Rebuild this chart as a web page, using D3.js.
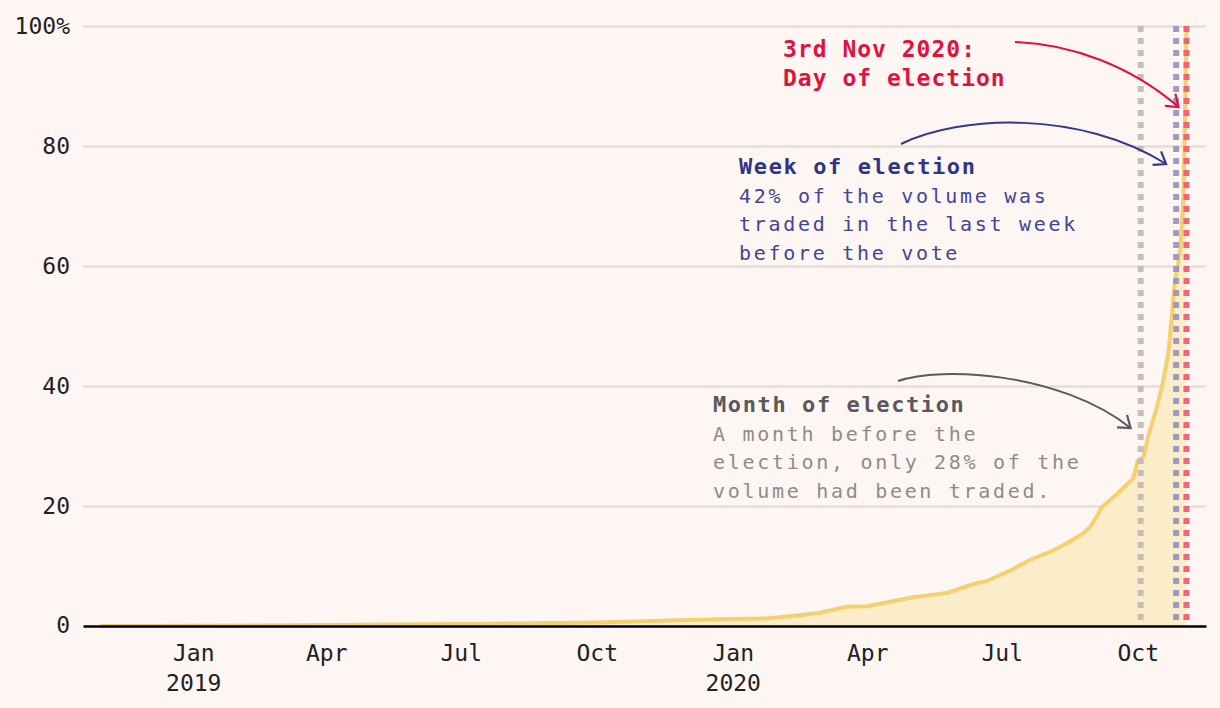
<!DOCTYPE html>
<html>
<head>
<meta charset="utf-8">
<script src="https://cdn.jsdelivr.net/npm/d3@7"></script>
<style>
  html, body { margin: 0; padding: 0; background: #fdf6f3; }
  svg { display: block; }
  text { font-family: "DejaVu Sans Mono", monospace; }
</style>
</head>
<body>
<svg id="chart" width="1220" height="708"></svg>
<script>
// ---- data ----
const dates = [
  "2018-10-30","2018-12-01","2019-01-01","2019-02-15","2019-04-01","2019-05-15",
  "2019-07-01","2019-08-15","2019-10-01","2019-11-01","2019-12-01","2020-01-01",
  "2020-01-24","2020-02-15","2020-02-29","2020-03-18","2020-04-01","2020-05-02",
  "2020-05-25","2020-06-12","2020-06-21","2020-07-09","2020-07-20","2020-08-05",
  "2020-08-14","2020-08-25","2020-08-30","2020-09-04","2020-09-06","2020-09-10",
  "2020-09-17","2020-09-28","2020-10-01","2020-10-05","2020-10-08","2020-10-14",
  "2020-10-18","2020-10-22","2020-10-24","2020-10-26","2020-10-30","2020-11-01",
  "2020-11-02","2020-11-03"
];
const shareTraded = [
  0, 0.02, 0.05, 0.08, 0.15, 0.25,
  0.35, 0.45, 0.6, 0.8, 1.0, 1.15,
  1.25, 1.8, 2.2, 3.2, 3.3, 4.8,
  5.5, 7.0, 7.5, 9.5, 11, 12.6,
  13.8, 15.4, 16.6, 18.5, 19.6, 20.5,
  22, 24.6, 27.5, 28.2, 31.5, 36.5,
  40.5, 46, 51.5, 57, 63, 72,
  85, 100
];
const yTicks = [0, 20, 40, 60, 80, 100];
const yTickLabels = ["0", "20", "40", "60", "80", "100%"];
const xTickDates = ["2019-01-01","2019-04-01","2019-07-01","2019-10-01","2020-01-01","2020-04-01","2020-07-01","2020-10-01"];
const xTickMonths = ["Jan","Apr","Jul","Oct","Jan","Apr","Jul","Oct"];
const xTickYears = ["2019","","","","2020","","",""];
const markerDates = ["2020-10-03", "2020-10-27", "2020-11-03"];
const markerColors = ["#c4bdb6", "#9a97c1", "#ee5f74"];

// ---- layout ----
const svg = d3.select("#chart");
const parse = d3.utcParse("%Y-%m-%d");
const data = dates.map((d, i) => ({ date: parse(d), v: shareTraded[i] }));

const x = d3.scaleUtc()
  .domain([new Date(Date.UTC(2018, 9, 18, 10)), new Date(Date.UTC(2020, 10, 16, 5))])
  .range([83, 1206]);
const y = d3.scaleLinear().domain([0, 100]).range([626, 26]);

// grid + y labels
const yAxis = d3.axisLeft(y).tickValues(yTicks.filter(t => t > 0))
  .tickSize(-(1206 - 83)).tickFormat(d => yTickLabels[yTicks.indexOf(d)]).tickPadding(13);
const gy = svg.append("g").attr("transform", "translate(83,0)").call(yAxis);
gy.select(".domain").remove();
gy.selectAll(".tick line").attr("stroke", "#e2d8d5").attr("stroke-width", 2);
gy.selectAll(".tick text").attr("fill", "#222").attr("font-size", 23)
  .style("font-family", "DejaVu Sans Mono").attr("x", -13);
// zero label
svg.append("text").attr("x", 70).attr("y", y(0)).attr("dy", "0.32em")
  .attr("text-anchor", "end").attr("font-size", 23).attr("fill", "#222")
  .text(yTickLabels[0]);

// area + line
const area = d3.area().x(d => x(d.date)).y0(y(0)).y1(d => y(d.v));
const line = d3.line().x(d => x(d.date)).y(d => y(d.v));
svg.append("path").datum(data).attr("d", area).attr("fill", "#fbecca");
svg.append("path").datum(data).attr("d", line).attr("fill", "none")
  .attr("stroke", "#f5d070").attr("stroke-width", 4).attr("stroke-linejoin", "round");

// dashed markers
markerDates.forEach((d, i) => {
  const xx = x(parse(d));
  svg.append("line").attr("x1", xx).attr("x2", xx).attr("y1", y(100)).attr("y2", y(0))
    .attr("stroke", markerColors[i]).attr("stroke-width", 6)
    .attr("stroke-dasharray", "6,6").attr("opacity", 0.95);
});

// x axis
const xAxis = d3.axisBottom(x).tickValues(xTickDates.map(parse)).tickSize(0).tickFormat("");
const gx = svg.append("g").attr("transform", `translate(0,${y(0)})`).call(xAxis);
gx.select(".domain").attr("stroke", "#000").attr("stroke-width", 2.5);
gx.selectAll(".tick").each(function(d, i) {
  const g = d3.select(this);
  g.append("text").attr("y", 35).attr("text-anchor", "middle").attr("fill", "#222")
    .attr("font-size", 23).text(xTickMonths[i]);
  if (xTickYears[i]) g.append("text").attr("y", 65).attr("text-anchor", "middle")
    .attr("fill", "#222").attr("font-size", 23).text(xTickYears[i]);
});

// ---- annotations ----
const defs = svg.append("defs");
function marker(id, color) {
  defs.append("marker").attr("id", id).attr("markerUnits", "userSpaceOnUse")
    .attr("viewBox", "-14 -10 16 20").attr("refX", 0).attr("refY", 0)
    .attr("markerWidth", 16).attr("markerHeight", 20).attr("orient", "auto")
    .append("path").attr("d", "M-11,-8L0,0L-11,8").attr("fill", "none")
    .attr("stroke", color).attr("stroke-width", 2.2).attr("stroke-linejoin", "miter");
}
marker("ar-red", "#e0123d");
marker("ar-blue", "#34398b");
marker("ar-grey", "#5b5a60");

const xm = markerDates.map(d => x(parse(d)));
function arrow(x0, y0, c1x, c1y, c2x, c2y, x1, y1, color, id) {
  const p = d3.path();
  p.moveTo(x0, y0); p.bezierCurveTo(c1x, c1y, c2x, c2y, x1, y1);
  svg.append("path").attr("d", p.toString()).attr("fill", "none")
    .attr("stroke", color).attr("stroke-width", 2).attr("marker-end", `url(#${id})`);
}
arrow(1015, 42, 1070, 44, 1130, 65, xm[2] - 8, y(86.5), "#e0123d", "ar-red");
arrow(901, 144, 960, 115, 1080, 110, xm[1] - 10, y(77), "#34398b", "ar-blue");
arrow(898, 381, 940, 366, 1060, 372, xm[0] - 10, y(33), "#5b5a60", "ar-grey");

function block(x0, y0, title, body, tColor, bColor, tSize, tSpacing) {
  const g = svg.append("g");
  title.forEach((t, i) => g.append("text").attr("x", x0).attr("y", y0 + i * 28.5)
    .attr("font-size", tSize).attr("font-weight", "bold").attr("fill", tColor)
    .attr("letter-spacing", tSpacing).text(t));
  body.forEach((t, i) => g.append("text").attr("x", x0).attr("y", y0 + (title.length + i) * 28.5)
    .attr("font-size", 20).attr("fill", bColor).attr("letter-spacing", 2.7).text(t));
}
block(783, 57, ["3rd Nov 2020:", "Day of election"], [], "#e0123d", "#e0123d", 23, 1.0);
block(739, 174, ["Week of election"],
  ["42% of the volume was", "traded in the last week", "before the vote"], "#2f3487", "#3f4595", 22, 1.6);
block(713, 412, ["Month of election"],
  ["A month before the", "election, only 28% of the", "volume had been traded."], "#59585d", "#8f8b8b", 22, 1.6);
</script>
</body>
</html>
